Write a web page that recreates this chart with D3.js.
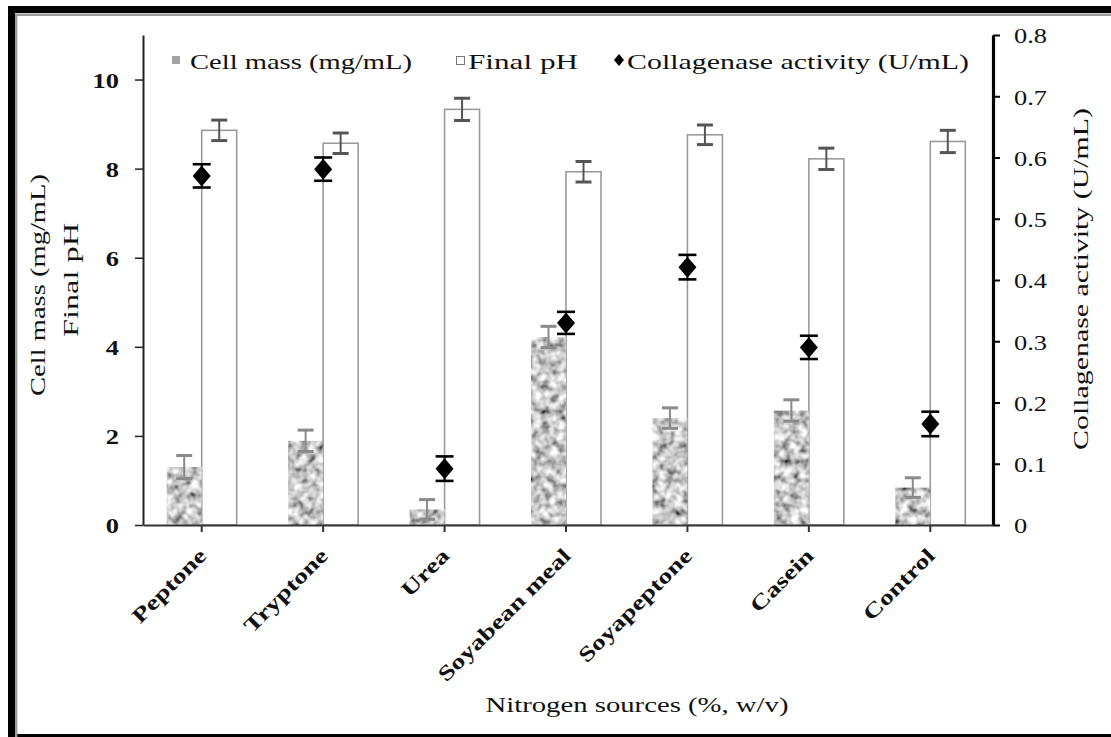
<!DOCTYPE html>
<html>
<head>
<meta charset="utf-8">
<script src="https://cdn.jsdelivr.net/npm/d3@7"></script>
<style>
  body { margin: 0; background: #fff; }
  svg text { font-family: "Liberation Serif", "Times New Roman", serif; fill: #111; }
</style>
</head>
<body>
<script>
// values
const sources = ['Peptone', 'Tryptone', 'Urea', 'Soyabean meal', 'Soyapeptone', 'Casein', 'Control'];
const cellMass = [1.30, 1.89, 0.35, 4.22, 2.40, 2.57, 0.84];
const cellMassErr = [0.26, 0.24, 0.22, 0.24, 0.23, 0.24, 0.22];
const finalPH = [8.86, 8.57, 9.33, 7.93, 8.76, 8.22, 8.61];
const finalPHErr = [0.23, 0.23, 0.25, 0.23, 0.22, 0.24, 0.25];
const collagenase = [0.570, 0.581, 0.092, 0.330, 0.421, 0.290, 0.165];
const collagenaseErr = [0.019, 0.019, 0.020, 0.018, 0.020, 0.019, 0.020];
const leftTicks = [0, 2, 4, 6, 8, 10];
const rightTicks = [0, 0.1, 0.2, 0.3, 0.4, 0.5, 0.6, 0.7, 0.8];

const W = 1111, H = 737;
const SERIF = '"Liberation Serif", "Times New Roman", serif';
const svg = d3.select('body').append('svg').attr('width', W).attr('height', H);

// the original figure is stretched sideways; widen text glyphs the same way
function stretch(sel, k) {
  sel.each(function () {
    const len = this.getComputedTextLength();
    d3.select(this).attr('textLength', len * k).attr('lengthAdjust', 'spacingAndGlyphs');
  });
}

// granite-like fill for the cell mass bars
const defs = svg.append('defs');
const f = defs.append('filter').attr('id', 'granite')
  .attr('x', 0).attr('y', 0).attr('width', 1).attr('height', 1);
f.append('feTurbulence').attr('type', 'fractalNoise').attr('baseFrequency', 0.12)
  .attr('numOctaves', 2).attr('seed', 7).attr('result', 'n');
f.append('feColorMatrix').attr('in', 'n').attr('type', 'matrix').attr('result', 'g')
  .attr('values', '1.6 0 0 0 -0.22  1.6 0 0 0 -0.22  1.6 0 0 0 -0.22  0 0 0 0 1');
f.append('feComposite').attr('in', 'g').attr('in2', 'SourceGraphic').attr('operator', 'in');

// frame
svg.append('rect').attr('x', 11.5).attr('y', 9.5).attr('width', 1200).attr('height', 728)
  .attr('fill', 'none').attr('stroke', '#000').attr('stroke-width', 7);
svg.append('path').attr('d', 'M16.2,737V14.7H1111')
  .attr('fill', 'none').attr('stroke', '#9a9a9a').attr('stroke-width', 2.4);

const x0 = 143, x1 = 993, yTop = 35, yBot = 525;
const x = d3.scaleBand().domain(sources).range([x0, x1]);
const yL = d3.scaleLinear().domain([0, 11]).range([yBot, yTop]);
const yR = d3.scaleLinear().domain([0, 0.8]).range([yBot, yTop]);
const barW = 35;
const cx = d => x(d) + x.bandwidth() / 2 - 2;

const g = svg.append('g');

// pH bars (white, grey outline)
g.selectAll('.ph').data(sources).enter().append('rect')
  .attr('x', d => cx(d)).attr('width', barW)
  .attr('y', (d, i) => yL(finalPH[i])).attr('height', (d, i) => yBot - yL(finalPH[i]))
  .attr('fill', '#fff').attr('stroke', '#9a9a9a').attr('stroke-width', 1.6);

// cell mass bars
g.selectAll('.cm').data(sources).enter().append('rect')
  .attr('x', d => cx(d) - barW).attr('width', barW)
  .attr('y', (d, i) => yL(cellMass[i])).attr('height', (d, i) => yBot - yL(cellMass[i]))
  .attr('fill', '#999').attr('filter', 'url(#granite)');

function errBars(vals, errs, scale, xf, cap, color, w) {
  const eb = g.append('g').attr('stroke', color).attr('fill', 'none');
  sources.forEach((s, i) => {
    const xx = xf(s), lo = scale(vals[i] - errs[i]), hi = scale(vals[i] + errs[i]);
    eb.append('line').attr('x1', xx).attr('x2', xx).attr('y1', lo).attr('y2', hi).attr('stroke-width', 2);
    eb.append('line').attr('x1', xx - cap / 2).attr('x2', xx + cap / 2).attr('y1', lo).attr('y2', lo).attr('stroke-width', w);
    eb.append('line').attr('x1', xx - cap / 2).attr('x2', xx + cap / 2).attr('y1', hi).attr('y2', hi).attr('stroke-width', w);
  });
}
errBars(cellMass, cellMassErr, yL, s => cx(s) - barW / 2, 16, '#8a8a8a', 3);
errBars(finalPH, finalPHErr, yL, s => cx(s) + barW / 2, 16, '#555', 3);
errBars(collagenase, collagenaseErr, yR, s => cx(s), 18, '#000', 2.6);

// collagenase diamonds
g.selectAll('.dia').data(sources).enter().append('path')
  .attr('d', (d, i) => {
    const px = cx(d), py = yR(collagenase[i]);
    return `M${px},${py - 10.5}L${px + 9},${py}L${px},${py + 10.5}L${px - 9},${py}Z`;
  })
  .attr('fill', '#000');

// axes
const axL = svg.append('g').attr('transform', `translate(${x0},0)`)
  .call(d3.axisLeft(yL).tickValues(leftTicks).tickSize(8).tickSizeOuter(0).tickPadding(16));
axL.select('.domain').attr('stroke', '#222').attr('stroke-width', 2);
axL.selectAll('.tick line').attr('stroke', '#222').attr('stroke-width', 1.5);
axL.selectAll('.tick text').style('font-size', '22px').style('font-weight', 'bold')
  .style('font-family', SERIF).attr('dy', '0.36em').attr('fill', '#111')
  .call(stretch, 1.2);

const axR = svg.append('g').attr('transform', `translate(${x1},0)`)
  .call(d3.axisRight(yR).tickValues(rightTicks).tickSize(7).tickSizeOuter(0).tickPadding(14)
    .tickFormat(d => d === 0 ? '0' : d3.format('.1f')(d)));
axR.select('.domain').attr('stroke', '#000').attr('stroke-width', 3.2);
axR.selectAll('.tick line').attr('stroke', '#000').attr('stroke-width', 2);
axR.selectAll('.tick text').style('font-size', '22px').style('font-family', SERIF)
  .attr('dy', '0.36em').attr('fill', '#111')
  .call(stretch, 1.2);

const axB = svg.append('g').attr('transform', `translate(0,${yBot})`)
  .call(d3.axisBottom(x).tickSize(7).tickSizeOuter(0).tickFormat(''));
axB.select('.domain').attr('stroke', '#333').attr('stroke-width', 2);
axB.selectAll('.tick').attr('transform', d => `translate(${cx(d)},0)`);
axB.selectAll('.tick line').attr('stroke', '#333').attr('stroke-width', 2);

// category labels
svg.append('g').selectAll('text').data(sources).enter().append('text')
  .attr('transform', d => `translate(${cx(d) + 6},${557}) rotate(-45)`)
  .attr('text-anchor', 'end')
  .style('font-size', '21px').style('font-weight', 'bold').style('font-family', SERIF)
  .text(d => d)
  .call(stretch, 1.32);

// axis titles
function title(tx, ty, rot, len, txt) {
  svg.append('text').attr('transform', `translate(${tx},${ty}) rotate(${rot})`)
    .attr('text-anchor', 'middle').style('font-size', '22px').style('font-family', SERIF)
    .attr('textLength', len).attr('lengthAdjust', 'spacingAndGlyphs').text(txt);
}
title(45, 285, -90, 222, 'Cell mass (mg/mL)');
title(78, 280, -90, 114, 'Final pH');
title(1088, 279, -90, 342, 'Collagenase activity (U/mL)');
title(637, 712, 0, 303, 'Nitrogen sources (%, w/v)');

// legend
const leg = svg.append('g');
function legText(lx, len, txt) {
  leg.append('text').attr('x', lx).attr('y', 69).style('font-size', '22px').style('font-family', SERIF)
    .attr('textLength', len).attr('lengthAdjust', 'spacingAndGlyphs').text(txt);
}
leg.append('rect').attr('x', 172).attr('y', 56).attr('width', 8).attr('height', 8)
  .attr('fill', '#a4a4a4');
legText(190, 222, 'Cell mass (mg/mL)');
leg.append('rect').attr('x', 456.5).attr('y', 56.5).attr('width', 8).attr('height', 8)
  .attr('fill', '#fff').attr('stroke', '#777').attr('stroke-width', 1);
legText(468, 110, 'Final pH');
leg.append('path').attr('d', 'M619,54L624,60L619,66L614,60Z').attr('fill', '#000');
legText(627, 342, 'Collagenase activity (U/mL)');
</script>
</body>
</html>
